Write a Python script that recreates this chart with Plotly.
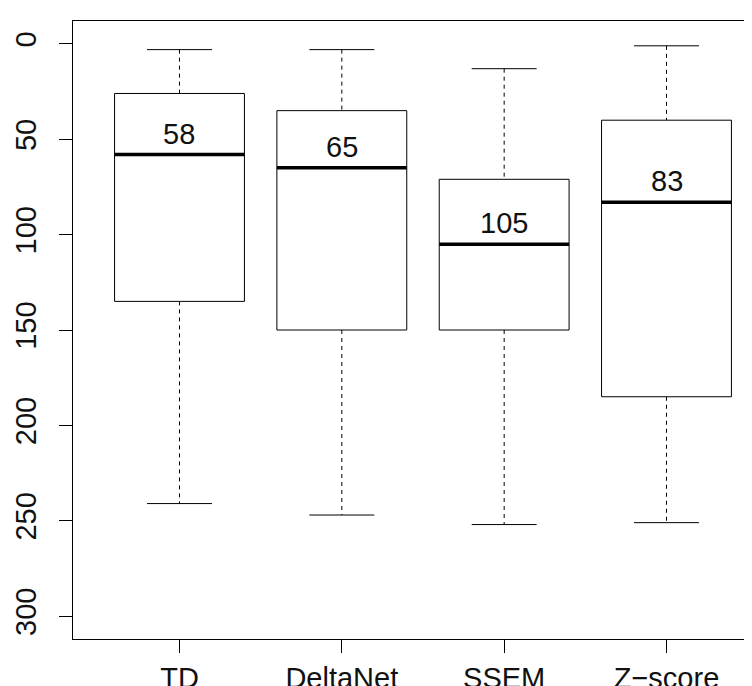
import plotly.graph_objects as go

categories = ["TD", "DeltaNet", "SSEM", "Z\u2212score"]
lower_whisker = [3, 3, 13, 1]
q1 = [26, 35, 71, 40]
median = [58, 65, 105, 83]
q3 = [135, 150, 150, 185]
upper_whisker = [241, 247, 252, 251]
y_ticks = [0, 50, 100, 150, 200, 250, 300]

FONT = "Liberation Sans, Arial, sans-serif"
BOX_HALF = 0.4
CAP_HALF = 0.2

fig = go.Figure()
pos = list(range(1, len(categories) + 1))

for i, c in enumerate(pos):
    # whiskers (dashed)
    fig.add_trace(go.Scatter(
        x=[c, c, None, c, c],
        y=[lower_whisker[i], q1[i], None, q3[i], upper_whisker[i]],
        mode="lines", line=dict(color="black", width=1, dash="4px,4px"),
        hoverinfo="skip", showlegend=False))
    # caps
    fig.add_trace(go.Scatter(
        x=[c - CAP_HALF, c + CAP_HALF, None, c - CAP_HALF, c + CAP_HALF],
        y=[lower_whisker[i], lower_whisker[i], None, upper_whisker[i], upper_whisker[i]],
        mode="lines", line=dict(color="black", width=1),
        hoverinfo="skip", showlegend=False))
    # box
    fig.add_trace(go.Scatter(
        x=[c - BOX_HALF, c + BOX_HALF, c + BOX_HALF, c - BOX_HALF, c - BOX_HALF],
        y=[q1[i], q1[i], q3[i], q3[i], q1[i]],
        mode="lines", line=dict(color="black", width=1),
        fill="toself", fillcolor="white",
        hoverinfo="skip", showlegend=False))
    # median
    fig.add_trace(go.Scatter(
        x=[c - BOX_HALF, c + BOX_HALF],
        y=[median[i], median[i]],
        mode="lines", line=dict(color="black", width=3.5),
        hoverinfo="skip", showlegend=False))
    fig.add_annotation(
        x=c, y=median[i], text=str(median[i]), showarrow=False,
        yanchor="middle", yshift=21,
        font=dict(family=FONT, size=29, color="#111111"))

fig.update_layout(
    width=752, height=686,
    margin=dict(l=65, r=0, t=13, b=45),
    paper_bgcolor="white", plot_bgcolor="white",
    font=dict(family=FONT, size=29, color="#111111"),
    showlegend=False,
)
fig.update_xaxes(
    range=[0.344, 4.576], tickvals=pos, ticktext=categories,
    showgrid=False, zeroline=False,
    showline=True, linecolor="black", linewidth=1, mirror=True,
    ticks="outside", ticklen=13, tickcolor="black", tickwidth=1,
    ticklabelstandoff=0,
    tickfont=dict(family=FONT, size=29, color="#111111"),
)
fig.update_yaxes(
    range=[312, -12], tickvals=y_ticks, ticktext=[str(t) for t in y_ticks],
    showgrid=False, zeroline=False,
    showline=True, linecolor="black", linewidth=1, mirror=False,
    ticks="outside", ticklen=13, tickcolor="black", tickwidth=1,
    tickangle=-90, ticklabelstandoff=11,
    tickfont=dict(family=FONT, size=29, color="#111111"),
)

fig.write_html("out.html")
